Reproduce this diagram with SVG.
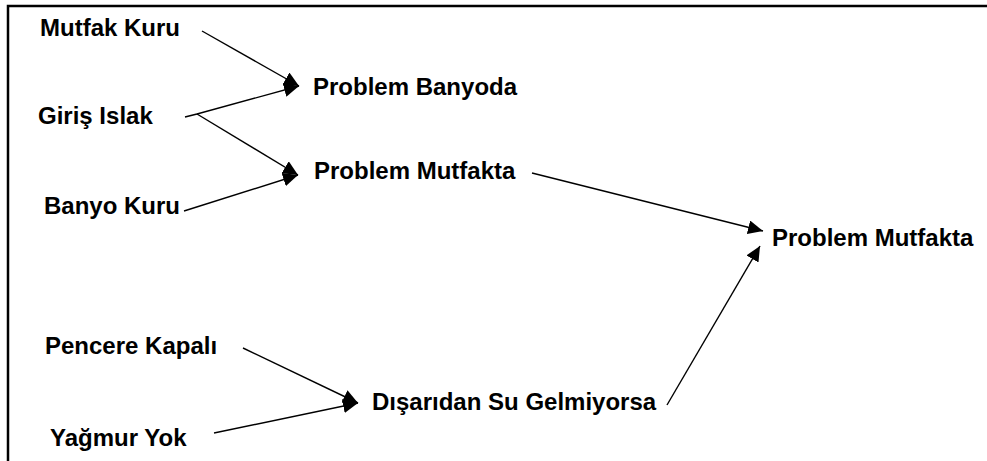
<svg xmlns="http://www.w3.org/2000/svg" width="987" height="461" viewBox="0 0 987 461">
<style>
.t{font-family:"Liberation Sans",Arial,sans-serif;font-weight:bold;font-size:24px;fill:#000}
.c{stroke:#000;stroke-width:1.4;fill:none}
.a{marker-end:url(#ah)}
</style>
<defs>
<marker id="ah" markerUnits="userSpaceOnUse" markerWidth="16" markerHeight="14" refX="15" refY="7" orient="auto">
<path d="M0,0 L15,7 L0,14 Z" fill="#000"/>
</marker>
</defs>
<rect width="987" height="461" fill="#fff"/>
<g id="frame">
<path d="M8,461 L8,6 L987,6" stroke="#000" stroke-width="2.5" fill="none"/>
</g>
<g id="connectors">
<line class="c a" x1="202" y1="31" x2="299" y2="86"/>
<polyline class="c" points="185,117 197,114"/>
<line class="c a" x1="197" y1="114" x2="299" y2="86"/>
<line class="c a" x1="197" y1="114" x2="298" y2="175"/>
<line class="c a" x1="184" y1="211" x2="298" y2="175"/>
<line class="c a" x1="532" y1="173" x2="763" y2="231"/>
<line class="c a" x1="667" y1="405" x2="760" y2="246"/>
<line class="c a" x1="243" y1="348" x2="358" y2="403"/>
<line class="c a" x1="214" y1="433" x2="358" y2="403"/>
</g>
<g id="n-mutfak-kuru"><text class="t" x="40" y="36">Mutfak Kuru</text></g>
<g id="n-giris-islak"><text class="t" x="38" y="124">Giriş Islak</text></g>
<g id="n-banyo-kuru"><text class="t" x="44" y="214">Banyo Kuru</text></g>
<g id="n-problem-banyoda"><text class="t" x="313" y="95">Problem Banyoda</text></g>
<g id="n-problem-mutfakta-1"><text class="t" x="314" y="179">Problem Mutfakta</text></g>
<g id="n-problem-mutfakta-2"><text class="t" x="772" y="246">Problem Mutfakta</text></g>
<g id="n-pencere-kapali"><text class="t" x="45" y="354">Pencere Kapalı</text></g>
<g id="n-yagmur-yok"><text class="t" x="50" y="446">Yağmur Yok</text></g>
<g id="n-disaridan"><text class="t" x="372" y="410">Dışarıdan Su Gelmiyorsa</text></g>
</svg>
